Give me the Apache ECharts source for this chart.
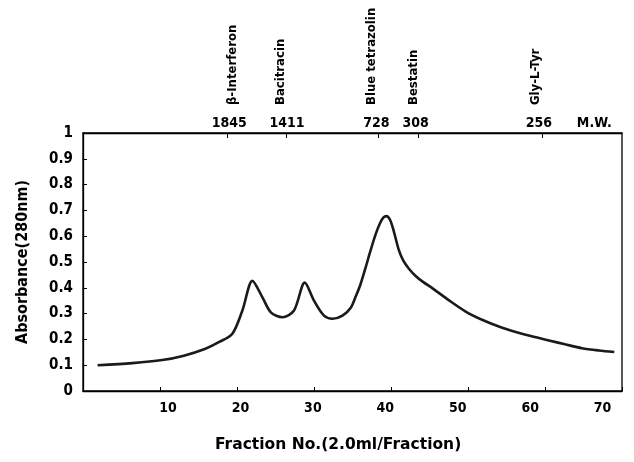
<!DOCTYPE html>
<html>
<head>
<meta charset="utf-8">
<script src="https://cdn.jsdelivr.net/npm/echarts@6/dist/echarts.min.js"></script>
<style>
html,body{margin:0;padding:0;background:#fff;}
#chart{width:634px;height:462px;}
</style>
</head>
<body>
<div id="chart"></div>
<script>
// Elution profile (fraction number vs absorbance at 280 nm)
const fractions = [1.9, 6.4, 10.3, 13.1, 15.9, 17.7, 19.4, 20.7, 22.0, 23.3, 24.4, 25.9, 27.4, 28.8, 30.0, 31.3, 32.4, 33.7, 34.8, 35.4, 36.0, 36.7, 37.3, 38.0, 38.6, 39.0, 39.4, 39.9, 40.4, 41.0, 41.6, 42.3, 43.2, 44.2, 45.4, 47.5, 49.7, 51.9, 54.0, 56.2, 58.4, 60.5, 62.6, 64.8, 67.0, 69.0];
const absorbance = [0.100, 0.108, 0.120, 0.137, 0.164, 0.190, 0.222, 0.312, 0.427, 0.363, 0.305, 0.286, 0.312, 0.420, 0.350, 0.292, 0.280, 0.292, 0.324, 0.365, 0.410, 0.478, 0.540, 0.607, 0.652, 0.672, 0.678, 0.662, 0.615, 0.548, 0.505, 0.475, 0.446, 0.422, 0.398, 0.352, 0.308, 0.275, 0.250, 0.229, 0.211, 0.196, 0.181, 0.166, 0.157, 0.151];

// Molecular-weight markers on the top axis
const markerTickPos = [18.7, 26.4, 38.4, 43.6, 59.6];
const mwLabelPos = [19.0, 26.5, 38.1, 43.2, 59.2, 66.4];
const mwLabels = ['1845', '1411', '728', '308', '256', 'M.W.'];
const compoundPos = [19.4, 25.7, 37.5, 43.0, 58.8];
const compoundNames = ['β-Interferon', 'Bacitracin', 'Blue tetrazolin', 'Bestatin', 'Gly-L-Tyr'];

const xTickValues = [10, 20, 30, 40, 50, 60, 70];

const FONT = '"DejaVu Sans Condensed", "Liberation Sans Narrow", "DejaVu Sans", sans-serif';
const FONT_WIDE = '"DejaVu Sans", "Liberation Sans", sans-serif';

const data = fractions.map((f, i) => [f, absorbance[i]]);

const chart = echarts.init(document.getElementById('chart'), null, {renderer: 'canvas'});
chart.setOption({
  backgroundColor: '#ffffff',
  animation: false,
  grid: [
    {left: 83, right: 12, top: 133, bottom: 71, show: true, borderColor: '#000', borderWidth: 1.3, backgroundColor: 'transparent'},
    {left: 95.6, right: 31.4, top: 133, bottom: 71, show: false}
  ],
  xAxis: [
    {
      gridIndex: 0, type: 'value', position: 'bottom', min: 0, max: 70, interval: 10,
      axisLine: {show: true, lineStyle: {color: '#000', width: 1.3}},
      axisTick: {show: true, inside: true, length: 4, lineStyle: {color: '#000', width: 1}},
      axisLabel: {show: false},
      splitLine: {show: false}
    },
    {
      gridIndex: 0, type: 'value', position: 'top', min: 0, max: 70,
      axisLine: {show: true, lineStyle: {color: '#000', width: 1.3}},
      axisTick: {show: true, inside: true, length: 5, customValues: markerTickPos, lineStyle: {color: '#000', width: 1}},
      axisLabel: {
        show: true, customValues: mwLabelPos, margin: 3,
        color: '#000', fontFamily: FONT, fontWeight: 'bold', fontSize: 14,
        formatter: function (v) { const i = mwLabelPos.indexOf(v); return i >= 0 ? mwLabels[i] : ''; }
      },
      splitLine: {show: false}
    },
    {
      gridIndex: 0, type: 'value', position: 'top', min: 0, max: 70, offset: 20,
      axisLine: {show: false}, axisTick: {show: false},
      axisLabel: {
        show: true, customValues: compoundPos, rotate: -90, margin: 8,
        color: '#000', fontFamily: FONT, fontWeight: 'bold', fontSize: 13,
        formatter: function (v) { const i = compoundPos.indexOf(v); return i >= 0 ? compoundNames[i] : ''; }
      },
      splitLine: {show: false}
    },
    {
      gridIndex: 1, type: 'value', position: 'bottom', min: 0, max: 70, interval: 10,
      axisLine: {show: false}, axisTick: {show: false}, splitLine: {show: false},
      axisLabel: {
        show: true, margin: 10, showMinLabel: false,
        color: '#000', fontFamily: FONT, fontWeight: 'bold', fontSize: 14,
        formatter: function (v) { return xTickValues.indexOf(v) >= 0 ? String(v) : ''; }
      },
      name: 'Fraction No.(2.0ml/Fraction)', nameLocation: 'middle', nameGap: 46,
      nameTextStyle: {color: '#000', fontFamily: FONT_WIDE, fontWeight: 'bold', fontSize: 15.5, padding: [0, 22, 0, 0]}
    }
  ],
  yAxis: [
    {
      gridIndex: 0, type: 'value', min: 0, max: 1, interval: 0.1,
      axisLine: {show: true, lineStyle: {color: '#000', width: 1.3}},
      axisTick: {show: true, inside: true, length: 4, lineStyle: {color: '#000', width: 1}},
      axisLabel: {
        show: true, margin: 10, color: '#000', fontFamily: FONT, fontWeight: 'bold', fontSize: 15,
        formatter: function (v) { return (v === 0 || v === 1) ? String(v) : v.toFixed(1); }
      },
      splitLine: {show: false},
      name: 'Absorbance(280nm)', nameLocation: 'middle', nameGap: 52,
      nameTextStyle: {color: '#000', fontFamily: FONT, fontWeight: 'bold', fontSize: 16}
    },
    {gridIndex: 1, type: 'value', min: 0, max: 1, show: false}
  ],
  series: [
    {
      type: 'line', xAxisIndex: 0, yAxisIndex: 0, data: data,
      smooth: 0.3, symbol: 'none',
      lineStyle: {color: '#1a1a1a', width: 2.6}
    }
  ]
});
</script>
</body>
</html>
